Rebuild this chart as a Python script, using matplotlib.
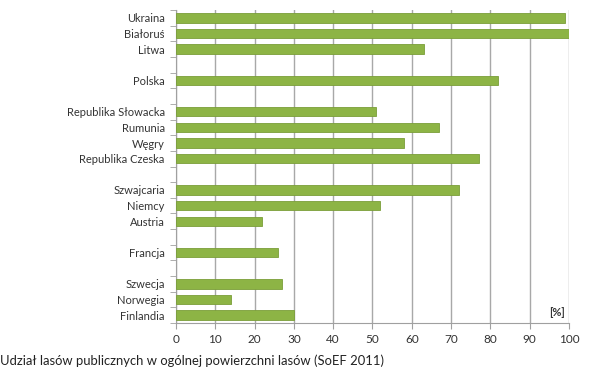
import matplotlib.pyplot as plt
import numpy as np

plt.rcParams['font.family'] = ['Lato', 'DejaVu Sans']

# Slots from top to bottom; empty strings are gaps between country groups
countries = ["Ukraina", "Białoruś", "Litwa", "",
             "Polska", "",
             "Republika Słowacka", "Rumunia", "Węgry", "Republika Czeska", "",
             "Szwajcaria", "Niemcy", "Austria", "",
             "Francja", "",
             "Szwecja", "Norwegia", "Finlandia"]
shares = [99, 100, 63, None,
          82, None,
          51, 67, 58, 77, None,
          72, 52, 22, None,
          26, None,
          27, 14, 30]

fig = plt.figure(figsize=(6.01, 3.78), dpi=100)
ax = fig.add_axes([0.2928, 0.1455, 0.654, 0.828])

n = len(countries)
pos = np.arange(n)
vals = [v if v is not None else 0 for v in shares]
mask = [v is not None for v in shares]
ax.barh(pos[mask], np.array(vals)[mask], height=0.6, color='#8db445',
        edgecolor='#7a9e38', linewidth=0.6, zorder=3)

ax.set_ylim(n - 0.5, -0.5)
ax.set_xlim(0, 100)
ax.set_xticks(range(0, 101, 10))
ax.grid(axis='x', color='#a8a8a8', linewidth=1.0, zorder=0)

ax.set_yticks(pos)
ax.set_yticklabels(countries)
ax.tick_params(axis='y', length=0, labelsize=8, labelcolor='#333333', pad=8)
ax.set_yticks(np.arange(-0.5, n, 1), minor=True)
ax.tick_params(axis='y', which='minor', length=4, color='#a0a0a0', direction='out')
ax.tick_params(axis='x', length=4, color='#a0a0a0', labelsize=8.5, labelcolor='#333333', pad=4)

for s in ['top', 'right']:
    ax.spines[s].set_visible(False)
for s in ['left', 'bottom']:
    ax.spines[s].set_color('#a0a0a0')

ax.text(97, n - 1.15, "[%]", ha='center', va='center', fontsize=8,
        fontweight='bold', color='#333333')

fig.text(0.0, 0.045, "Udział lasów publicznych w ogólnej powierzchni lasów (SoEF 2011)",
         fontsize=9.4, color='#222222', ha='left', va='center')

fig.savefig("out.png", dpi=100)
